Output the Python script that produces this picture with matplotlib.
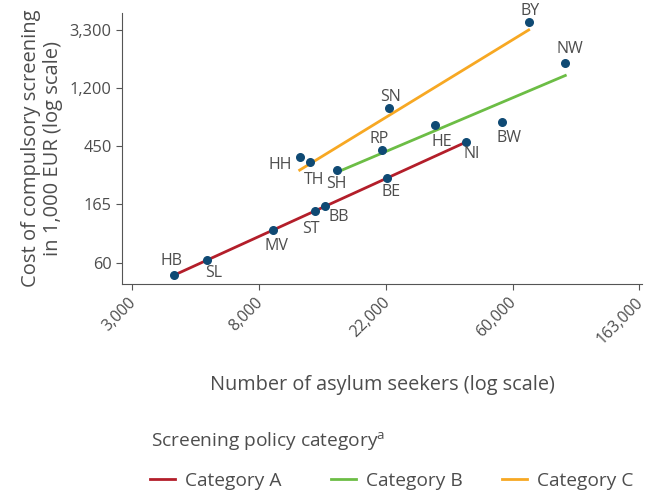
import numpy as np
import matplotlib
matplotlib.use("Agg")
import matplotlib.pyplot as plt
from matplotlib.transforms import ScaledTranslation

# German federal states: asylum seekers vs cost of compulsory screening
states = ["HB", "SL", "MV", "ST", "BB", "BE", "NI",
          "SH", "HE", "BW", "NW",
          "HH", "TH", "RP", "SN", "BY"]
seekers = [4140, 5370, 9030, 12640, 13650, 22300, 41570,
           14970, 32440, 55200, 90700,
           11170, 12120, 21340, 22550, 67960]
cost = [48.5, 62.8, 105, 147, 159, 260, 482,
        298, 643, 674, 1874,
        373, 340, 420, 863, 3800]
category = ["A", "A", "A", "A", "A", "A", "A",
            "B", "B", "B", "B",
            "C", "C", "C", "C", "C"]

cat_names = ["A", "B", "C"]
cat_colors = ["#b31e2a", "#6cbd45", "#f7a823"]

x_ticks = [8, 9, 10, 11, 12]
x_ticklabels = ["3,000", "8,000", "22,000", "60,000", "163,000"]
y_ticks = [4.1, 5.1, 6.1, 7.1, 8.1]
y_ticklabels = ["60", "165", "450", "1,200", "3,300"]

# label offsets in points (dx, dy)
offsets = {"HB": (-2, 10), "SL": (5, -9), "MV": (3, -11), "ST": (-3, -13),
           "BB": (10, -8), "BE": (3, -10), "NI": (4, -9), "SH": (0, -10),
           "HE": (5, -12), "BW": (5, -11), "NW": (3, 10), "HH": (-14, -6),
           "TH": (3, -13), "RP": (-2, 8), "SN": (1, 8), "BY": (1, 8)}

text_col = "#4d4d4d"
plt.rcParams["font.family"] = ["Open Sans", "DejaVu Sans"]
plt.rcParams["text.color"] = text_col
plt.rcParams["axes.labelcolor"] = text_col
plt.rcParams["xtick.color"] = text_col
plt.rcParams["ytick.color"] = text_col

lx = np.log(np.array(seekers, dtype=float))
ly = np.log(np.array(cost, dtype=float))
cat = np.array(category)

fig = plt.figure(figsize=(6.47, 4.94), dpi=100)
ax = fig.add_axes([122 / 647, 1 - 284 / 494, 520 / 647, 271 / 494])

# regression line per category in log-log space
handles = []
for name, col in zip(cat_names, cat_colors):
    m = cat == name
    slope, icpt = np.polyfit(lx[m], ly[m], 1)
    xs = np.array([lx[m].min(), lx[m].max()])
    h, = ax.plot(xs, slope * xs + icpt, color=col, lw=2, label="Category " + name, zorder=2)
    handles.append(h)

ax.scatter(lx, ly, s=30, color="#0f4a74", zorder=3)
for s, x, y in zip(states, lx, ly):
    dx, dy = offsets[s]
    ax.annotate(s, (x, y), xytext=(dx, dy), textcoords="offset points",
                ha="center", va="center", fontsize=11.5, color=text_col)

ax.set_xlim(7.92, 12.02)
ax.set_ylim(3.73, 8.40)
ax.set_xticks(x_ticks)
ax.set_xticklabels(x_ticklabels, rotation=45, ha="right", rotation_mode="anchor")
ax.set_yticks(y_ticks)
ax.set_yticklabels(y_ticklabels)
ax.tick_params(labelsize=11.8, length=4, color="#555555")
ax.tick_params(axis="x", labelsize=11.4)
# nudge rotated x labels a little to the left
shift = ScaledTranslation(-3 / 72, 0, fig.dpi_scale_trans)
for lbl in ax.get_xticklabels():
    lbl.set_transform(lbl.get_transform() + shift)
for sp in ["top", "right"]:
    ax.spines[sp].set_visible(False)
for sp in ["left", "bottom"]:
    ax.spines[sp].set_color("#555555")

ax.set_xlabel("Number of asylum seekers (log scale)", fontsize=14.3, labelpad=20)
ax.set_ylabel("Cost of compulsory screening\nin 1,000 EUR (log scale)", fontsize=14.5,
              labelpad=5, linespacing=1.1)

fig.text(151 / 647, 1 - 442 / 494, "Screening policy category$^{\\mathregular{a}}$",
         fontsize=13.8, va="center", ha="left")

# one legend box per entry so the columns sit where wanted
for h, x0 in zip(handles, [142, 323, 494]):
    fig.legend([h], [h.get_label()], loc="center left",
               bbox_to_anchor=(x0 / 647, 1 - 481 / 494), frameon=False,
               fontsize=13.8, handlelength=1.3, handletextpad=0.55, borderaxespad=0)

fig.savefig("out.png", dpi=100)
